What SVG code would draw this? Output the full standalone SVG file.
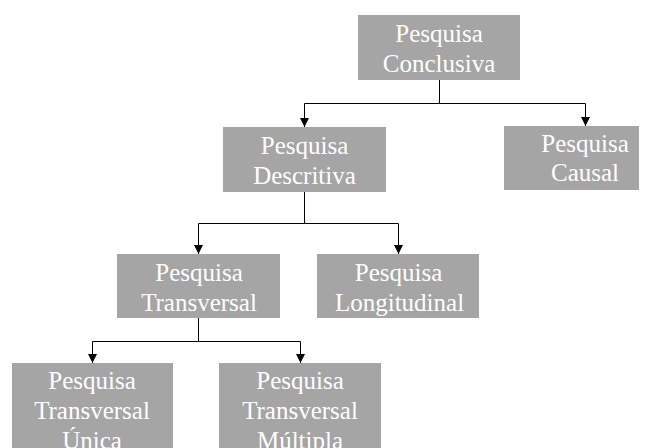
<svg xmlns="http://www.w3.org/2000/svg" width="654" height="448" viewBox="0 0 654 448">
  <defs>
    <marker id="arrow" viewBox="0 0 10 10" refX="10" refY="5" markerWidth="9" markerHeight="9" markerUnits="userSpaceOnUse" orient="auto">
      <path d="M0,0 L10,5 L0,10 z" fill="#000"/>
    </marker>
    <style>
      .box { fill: #a5a5a5; }
      .lbl { font-family: "Liberation Serif", "Times New Roman", serif; font-size: 25px; fill: #ffffff; text-anchor: middle; }
      .edge { fill: none; stroke: #000; stroke-width: 1; }
    </style>
  </defs>
  <rect width="654" height="448" fill="#ffffff"/>

  <g id="connectors">
    <path class="edge" d="M439.5,80 V103.5 H304.5 V127" marker-end="url(#arrow)"/>
    <path class="edge" d="M439.5,103.5 H585.5 V126" marker-end="url(#arrow)"/>
    <path class="edge" d="M304.5,192 V223.5 H198.5 V254" marker-end="url(#arrow)"/>
    <path class="edge" d="M304.5,223.5 H398.5 V254" marker-end="url(#arrow)"/>
    <path class="edge" d="M198.5,318 V341.5 H92.5 V363" marker-end="url(#arrow)"/>
    <path class="edge" d="M198.5,341.5 H300.5 V363" marker-end="url(#arrow)"/>
  </g>

  <g id="conclusiva">
    <rect class="box" x="358" y="15" width="162" height="65"/>
    <text class="lbl" x="439" y="42">Pesquisa</text>
    <text class="lbl" x="439" y="72">Conclusiva</text>
  </g>

  <g id="descritiva">
    <rect class="box" x="223" y="127" width="163" height="65"/>
    <text class="lbl" x="304.5" y="154">Pesquisa</text>
    <text class="lbl" x="304.5" y="184">Descritiva</text>
  </g>

  <g id="causal">
    <rect class="box" x="504" y="126" width="135" height="64"/>
    <text class="lbl" x="585" y="152">Pesquisa</text>
    <text class="lbl" x="585" y="181">Causal</text>
  </g>

  <g id="transversal">
    <rect class="box" x="117" y="254" width="163" height="64"/>
    <text class="lbl" x="199" y="281">Pesquisa</text>
    <text class="lbl" x="199" y="311">Transversal</text>
  </g>

  <g id="longitudinal">
    <rect class="box" x="317" y="254" width="162" height="64"/>
    <text class="lbl" x="398.5" y="281">Pesquisa</text>
    <text class="lbl" x="399.5" y="311">Longitudinal</text>
  </g>

  <g id="transversal-unica">
    <rect class="box" x="12" y="363" width="161" height="90"/>
    <text class="lbl" x="92" y="389">Pesquisa</text>
    <text class="lbl" x="92" y="419">Transversal</text>
    <text class="lbl" x="92" y="449">Única</text>
  </g>

  <g id="transversal-multipla">
    <rect class="box" x="219" y="363" width="162" height="90"/>
    <text class="lbl" x="300" y="389">Pesquisa</text>
    <text class="lbl" x="300" y="419">Transversal</text>
    <text class="lbl" x="300" y="449">Múltipla</text>
  </g>
</svg>
